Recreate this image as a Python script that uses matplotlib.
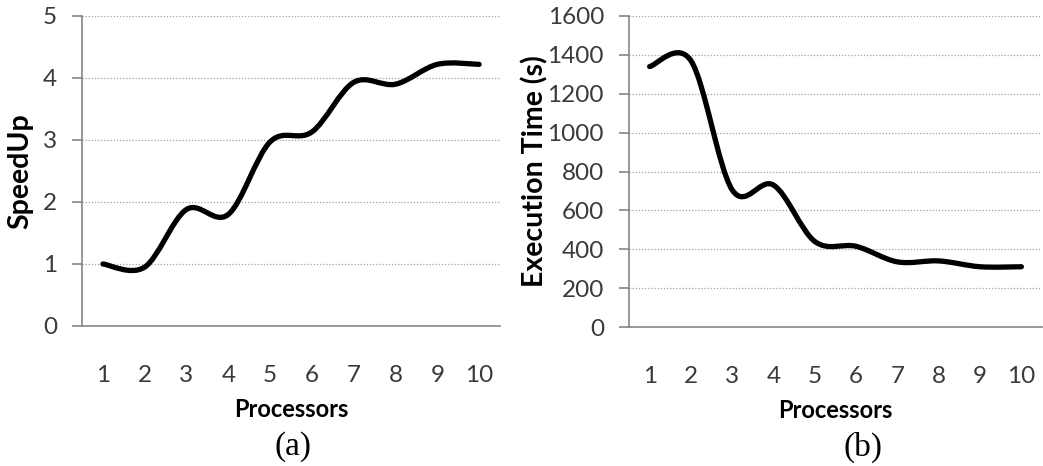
import matplotlib.pyplot as plt
from matplotlib.path import Path
from matplotlib.patches import PathPatch

processors = [1, 2, 3, 4, 5, 6, 7, 8, 9, 10]
speedup = [1.0, 0.95, 1.88, 1.8, 2.97, 3.13, 3.93, 3.9, 4.22, 4.22]
exec_time = [1340, 1370, 705, 730, 440, 415, 335, 340, 310, 310]

grid_col = '#a0a0a0'
axis_col = '#868686'
text_col = '#3a3a3a'


# excel-like smoothed line: catmull-rom turned into bezier segments
def smooth_path(x, y):
    pts = list(zip(x, y))
    verts = [pts[0]]
    codes = [Path.MOVETO]
    n = len(pts)
    for i in range(n - 1):
        p0 = pts[max(i - 1, 0)]
        p1 = pts[i]
        p2 = pts[i + 1]
        p3 = pts[min(i + 2, n - 1)]
        c1 = (p1[0] + (p2[0] - p0[0]) / 6, p1[1] + (p2[1] - p0[1]) / 6)
        c2 = (p2[0] - (p3[0] - p1[0]) / 6, p2[1] - (p3[1] - p1[1]) / 6)
        verts += [c1, c2, p2]
        codes += [Path.CURVE4] * 3
    return Path(verts, codes)


def style_axes(ax, ymax, ystep, ylabel, ypad):
    ax.set_xlim(0.5, 10.5)
    ax.set_ylim(0, ymax)
    ax.set_yticks(range(0, ymax + 1, ystep))
    ax.set_xticks(processors)
    for s in ['top', 'right']:
        ax.spines[s].set_visible(False)
    for s in ['left', 'bottom']:
        ax.spines[s].set_color(axis_col)
        ax.spines[s].set_linewidth(1.2)
    ax.yaxis.grid(True, linestyle=(0, (1, 1.5)), color=grid_col, linewidth=0.9)
    ax.set_axisbelow(True)
    ax.tick_params(axis='y', direction='out', length=7, width=1.2, color=axis_col,
                   labelsize=17.5, labelcolor=text_col, pad=11)
    ax.tick_params(axis='x', length=0, labelsize=17.5, labelcolor=text_col, pad=28)
    for lab in ax.get_xticklabels() + ax.get_yticklabels():
        lab.set_family('Lato')
    ax.set_xlabel('Processors', fontsize=17, fontweight='bold', family='Lato', labelpad=9)
    ax.set_ylabel(ylabel, fontsize=20.5, fontweight='bold', family='Lato', labelpad=ypad)


fig = plt.figure(figsize=(10.43, 4.66), dpi=100)
ax1 = fig.add_axes([82 / 1043, 1 - 326 / 466, 418 / 1043, 310 / 466])
ax2 = fig.add_axes([629 / 1043, 1 - 327 / 466, 413 / 1043, 311 / 466])

ax1.add_patch(PathPatch(smooth_path(processors, speedup), fill=False,
                        edgecolor='black', linewidth=3.8, capstyle='round'))
style_axes(ax1, 5, 1, 'SpeedUp', 7)

ax2.add_patch(PathPatch(smooth_path(processors, exec_time), fill=False,
                        edgecolor='black', linewidth=3.8, capstyle='round'))
style_axes(ax2, 1600, 200, 'Execution Time (s)', -1)

fig.text(293 / 1043, 1 - 447 / 466, '(a)', ha='center', va='center',
         fontsize=24, family='Liberation Serif')
fig.text(863 / 1043, 1 - 447 / 466, '(b)', ha='center', va='center',
         fontsize=24, family='Liberation Serif')

fig.savefig('out.png', dpi=100)
